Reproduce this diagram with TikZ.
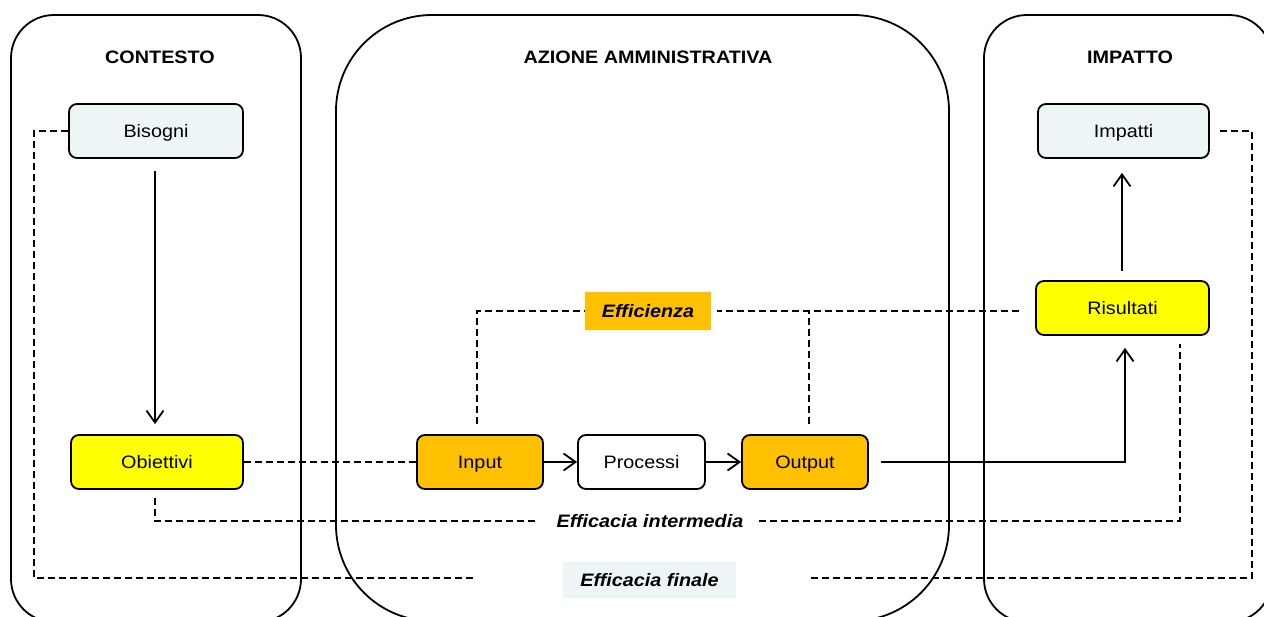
\documentclass[tikz,border=0pt]{standalone}
\usepackage{fontspec}
\setmainfont{Liberation Sans}[FakeStretch=1.1]
\usetikzlibrary{arrows.meta}
\definecolor{lightbox}{RGB}{238,245,247}
\definecolor{orangebox}{RGB}{255,192,0}
\definecolor{yellowbox}{RGB}{255,255,0}
\begin{document}
\begin{tikzpicture}[x=1pt,y=-1pt,
  panel/.style={draw=black, line width=1.8pt, rounded corners=#1},
  box/.style={draw=black, line width=1.8pt, rounded corners=8pt, minimum height=54pt, inner sep=0pt,
    text height=13pt, text depth=0pt, font=\fontsize{18}{21}\selectfont},
  title/.style={font=\fontsize{18}{21}\selectfont\bfseries, text height=13pt, text depth=0pt},
  lbl/.style={font=\fontsize{18}{21}\selectfont\bfseries\itshape, inner sep=0pt, text height=13pt, text depth=0pt},
  arr/.style={line width=1.8pt, -{Straight Barb[length=12pt,width=17pt,line width=1.8pt]}},
  sol/.style={line width=1.8pt},
  dsh/.style={line width=1.8pt, dash pattern=on 7pt off 4pt}
]
\useasboundingbox (0,0) rectangle (1264,617);
\fill[white] (0,0) rectangle (1264,617);
\begin{scope}
\clip (0,0) rectangle (1264,617);
\draw[panel=43pt] (11,15) rectangle (301,622);
\draw[panel=96pt] (336,15) rectangle (949,621);
\draw[panel=43pt] (984,15) rectangle (1272,622);
\end{scope}

\node[title] (tctx) at (160,57) {CONTESTO};
\node[title] (taz) at (648,57) {AZIONE AMMINISTRATIVA};
\node[title] (timp) at (1130,57) {IMPATTO};

\node[box, fill=lightbox, minimum width=174pt] (bis) at (156,131) {Bisogni};
\node[box, fill=yellowbox, minimum width=172pt] (obi) at (157,462) {Obiettivi};
\node[box, fill=orangebox, minimum width=126pt] (inp) at (480,462) {Input};
\node[box, fill=white, minimum width=127pt] (pro) at (641.5,462) {Processi};
\node[box, fill=orangebox, minimum width=126pt] (out) at (805,462) {Output};
\node[box, fill=yellowbox, minimum width=173pt] (ris) at (1122.5,308) {Risultati};
\node[box, fill=lightbox, minimum width=171pt] (imp) at (1123.5,131) {Impatti};

\node[lbl, fill=orangebox, minimum width=126pt, minimum height=38pt] (eff) at (648,311) {Efficienza};
\node[lbl] (einter) at (650,521) {Efficacia intermedia};
\node[lbl, fill=lightbox, minimum width=173pt, minimum height=36pt] (efin) at (649.5,580) {Efficacia finale};

% main flow
\draw[arr] ([xshift=-1pt,yshift=-12pt]bis.south) -- ([xshift=-2pt,yshift=10pt]obi.north);
\draw[dsh] (obi.east) -- (inp.west);
\draw[arr] (inp.east) -- (pro.west);
\draw[arr] (pro.east) -- (out.west);
\draw[arr] ([xshift=12pt]out.east) -| ([xshift=2.5pt,yshift=-12pt]ris.south);
\draw[arr] ([xshift=-0.5pt,yshift=9pt]ris.north) -- ([xshift=-1.5pt,yshift=-14pt]imp.south);

% Efficienza
\draw[dsh] ([xshift=-3pt,yshift=10pt]inp.north) |- (eff.west);
\draw[dsh] ([xshift=-16pt]ris.west |- eff.east) -- ([xshift=6pt]eff.east);
\draw[dsh] ([xshift=4pt,yshift=10pt]out.north) -- ([xshift=4pt]out.north |- eff.east);

% Efficacia intermedia
\draw[dsh] ([xshift=-2pt,yshift=-8pt]obi.south) |- ([xshift=-20pt]einter.west);
\draw[dsh] ([xshift=15pt]einter.east) -| ([xshift=57.5pt,yshift=-8pt]ris.south);

% Efficacia finale
\draw[dsh] (bis.west) -- ++(-34,0) |- ([xshift=-88pt,yshift=2pt]efin.west);
\draw[dsh] ([xshift=75pt,yshift=2pt]efin.east) -| ([xshift=42pt]imp.east) -- ([xshift=6pt]imp.east);
\end{tikzpicture}
\end{document}
